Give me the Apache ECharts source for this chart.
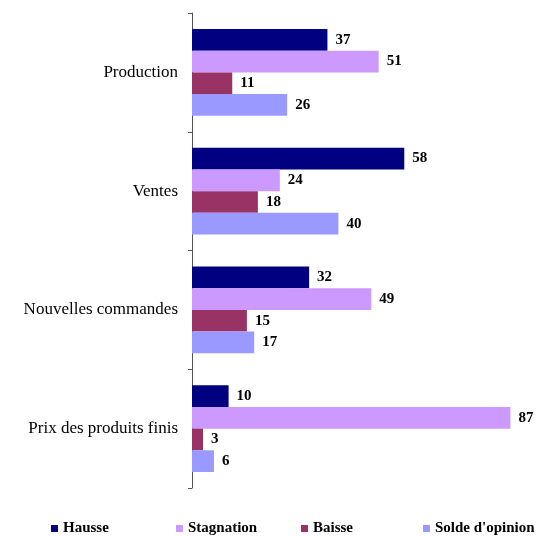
<!DOCTYPE html>
<html><head><meta charset="utf-8">
<script src="https://cdn.jsdelivr.net/npm/echarts@6/dist/echarts.min.js"></script>
<style>html,body{margin:0;padding:0;background:#fff}#c{width:552px;height:536px}</style>
</head><body><div id="c"></div>
<script>
var categories = ["Production", "Ventes", "Nouvelles commandes", "Prix des produits finis"];
var seriesNames = ["Hausse", "Stagnation", "Baisse", "Solde d'opinion"];
var hausse = [37, 58, 32, 10];
var stagnation = [51, 24, 49, 87];
var baisse = [11, 18, 15, 3];
var solde = [26, 40, 17, 6];
var colors = ["#000080", "#CC99FF", "#993366", "#9999FF"];
var legendLeft = [46, 171, 296, 418];

var FONT = "'Liberation Serif', 'DejaVu Serif', serif";
var values = [hausse, stagnation, baisse, solde];
var chart = echarts.init(document.getElementById('c'), null, {renderer: 'canvas'});
var series = values.map(function (v, i) {
  return {
    name: seriesNames[i], type: 'bar', data: v,
    barGap: '0%', barCategoryGap: '27%',
    itemStyle: {color: colors[i]},
    label: {show: true, position: 'right', distance: 8, color: '#000',
      fontFamily: FONT, fontWeight: 'bold', fontSize: 15},
    emphasis: {disabled: true}
  };
});
var legends = seriesNames.map(function (n, i) {
  return {
    data: [n], left: legendLeft[i], top: 516, itemWidth: 7, itemHeight: 7, itemGap: 3,
    icon: 'rect', selectedMode: false,
    textStyle: {fontFamily: FONT, fontSize: 15, fontWeight: 'bold', color: '#000', padding: [0, 0, 0, 0]}
  };
});
chart.setOption({
  animation: false,
  backgroundColor: '#fff',
  color: colors,
  grid: {left: 192, top: 13, bottom: 48, width: 329.4, containLabel: false},
  xAxis: {type: 'value', min: 0, max: 90, show: false},
  yAxis: {
    type: 'category', data: categories, inverse: true,
    axisLine: {show: true, lineStyle: {color: '#555', width: 1}},
    axisTick: {show: true, length: 4, lineStyle: {color: '#555'}},
    axisLabel: {fontFamily: FONT, fontSize: 17, color: '#000', margin: 14}
  },
  legend: legends,
  series: series
});
</script></body></html>
